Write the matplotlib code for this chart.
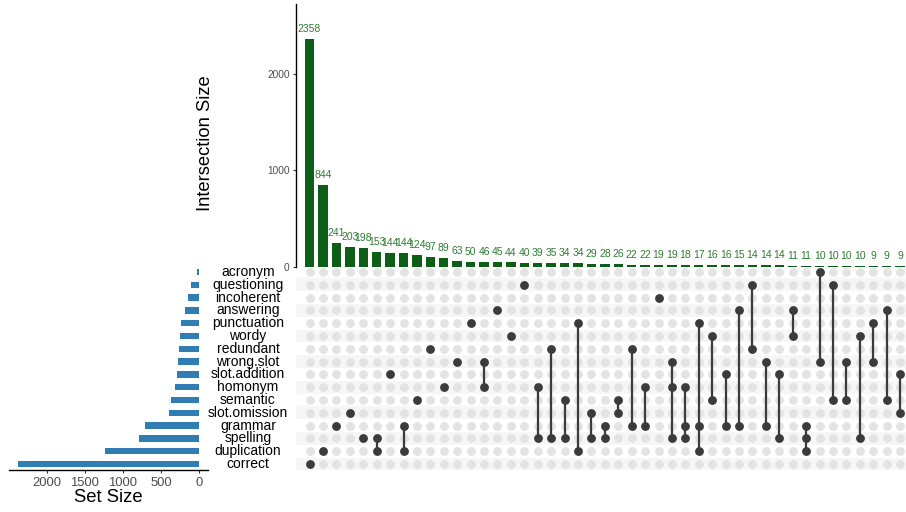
import matplotlib
matplotlib.use("Agg")
import matplotlib.pyplot as plt
from matplotlib.transforms import blended_transform_factory

plt.rcParams['font.family'] = ['Liberation Sans', 'DejaVu Sans']

# ---------------- data ----------------
sets = ['acronym', 'questioning', 'incoherent', 'answering', 'punctuation', 'wordy',
        'redundant', 'wrong.slot', 'slot.addition', 'homonym', 'semantic',
        'slot.omission', 'grammar', 'spelling', 'duplication', 'correct']
set_sizes = [31, 109, 140, 183, 231, 253, 262, 275, 293, 314, 371, 393, 712, 786, 1231, 2380]

intersection_sizes = [2358, 844, 241, 203, 198, 153, 144, 144, 124, 97, 89, 63, 50, 46, 45,
                      44, 40, 39, 35, 34, 34, 29, 28, 26, 22, 22, 19, 19, 18, 17, 16, 16,
                      15, 14, 14, 14, 11, 11, 10, 10, 10, 10, 9, 9, 9]
intersection_members = [
    ['correct'], ['duplication'], ['grammar'], ['slot.omission'], ['spelling'],
    ['spelling', 'duplication'], ['slot.addition'], ['grammar', 'duplication'],
    ['semantic'], ['redundant'], ['homonym'], ['wrong.slot'], ['punctuation'],
    ['wrong.slot', 'homonym'], ['answering'], ['wordy'], ['questioning'],
    ['homonym', 'spelling'], ['redundant', 'spelling'], ['semantic', 'spelling'],
    ['punctuation', 'duplication'], ['slot.omission', 'spelling'],
    ['grammar', 'spelling'], ['semantic', 'slot.omission'], ['redundant', 'grammar'],
    ['homonym', 'grammar'], ['incoherent'], ['wrong.slot', 'homonym', 'spelling'],
    ['homonym', 'grammar', 'spelling'], ['punctuation', 'grammar', 'duplication'],
    ['wordy', 'semantic'], ['slot.addition', 'grammar'], ['answering', 'grammar'],
    ['questioning', 'redundant'], ['wrong.slot', 'grammar'], ['slot.addition', 'spelling'],
    ['answering', 'wordy'], ['grammar', 'spelling', 'duplication'],
    ['acronym', 'wrong.slot'], ['questioning', 'semantic'], ['wrong.slot', 'semantic'],
    ['wordy', 'spelling'], ['punctuation', 'wrong.slot'], ['answering', 'semantic'],
    ['slot.addition', 'slot.omission'],
]

# ---------------- style ----------------
W, H = 906, 512
BAR_GREEN = '#0d5e16'
LABEL_GREEN = '#2f7d32'
SET_BLUE = '#2f7db2'
DOT_ON = '#3b3b3b'
DOT_OFF = '#e3e3e3'
STRIPE = '#f6f6f6'
TICK_GRAY = '#4d4d4d'

fig = plt.figure(figsize=(W / 100, H / 100), dpi=100)


def px_axes(x0, y0, x1, y1):
    return fig.add_axes([x0 / W, 1 - y1 / H, (x1 - x0) / W, (y1 - y0) / H])


n_cols = len(intersection_sizes)
n_rows = len(sets)
xs = list(range(n_cols))
col_left, col_right = -1.01, 44.44

mat_top, mat_bot = 265.6, 470.4

# ---------- intersection bar chart ----------
ax_bar = px_axes(296, 4, 906, 266.7)
ax_bar.bar(xs, intersection_sizes, width=0.7, color=BAR_GREEN)
for x, v in zip(xs, intersection_sizes):
    ax_bar.annotate(str(v), (x, v), xytext=(0, 5), textcoords='offset points',
                    ha='center', va='baseline', fontsize=7.5, color=LABEL_GREEN)
ax_bar.set_xlim(col_left, col_right)
ax_bar.set_ylim(0, max(intersection_sizes) * 1.154)
ax_bar.set_yticks([0, 1000, 2000])
ax_bar.tick_params(axis='y', labelsize=7.3, labelcolor=TICK_GRAY, length=2.5,
                   width=0.8, color='#333333', pad=2)
ax_bar.set_xticks([])
for s in ['top', 'right', 'bottom']:
    ax_bar.spines[s].set_visible(False)
ax_bar.spines['left'].set_linewidth(1.0)
ax_bar.patch.set_alpha(0)
fig.text(205.5 / W, 1 - 143 / H, 'Intersection Size', rotation=90, ha='center',
         va='center', fontsize=13.2, color='black')

# ---------- matrix ----------
ax_mat = px_axes(296, mat_top, 906, mat_bot)
ax_mat.set_xlim(col_left, col_right)
ax_mat.set_ylim(n_rows - 0.5, -0.5)
for i in range(n_rows):
    if i % 2 == 1:
        ax_mat.axhspan(i - 0.5, i + 0.5, color=STRIPE, lw=0, zorder=0)
gx, gy = [], []
for x in xs:
    for i in range(n_rows):
        gx.append(x)
        gy.append(i)
ax_mat.scatter(gx, gy, s=40, color=DOT_OFF, lw=0, zorder=1)
for x, members in zip(xs, intersection_members):
    rows = [sets.index(m) for m in members]
    if len(rows) > 1:
        ax_mat.plot([x, x], [min(rows), max(rows)], color=DOT_ON, lw=1.6, zorder=2,
                    solid_capstyle='butt')
    ax_mat.scatter([x] * len(rows), rows, s=40, color=DOT_ON, lw=0, zorder=3)
ax_mat.axis('off')

trans = blended_transform_factory(fig.transFigure, ax_mat.transData)
for i, name in enumerate(sets):
    ax_mat.text(248 / W, i, name, transform=trans, ha='center', va='center',
                fontsize=10, color='black', clip_on=False)

# ---------- set size bars ----------
ax_set = px_axes(8.6, mat_top, 208, mat_bot)
ax_set.barh(range(n_rows), set_sizes, height=0.5, color=SET_BLUE)
ax_set.set_ylim(n_rows - 0.5, -0.5)
smax = max(set_sizes)
ax_set.set_xlim(smax * 1.05, -smax * 0.05)
ax_set.set_xticks([2000, 1500, 1000, 500, 0])
ax_set.set_yticks([])
ax_set.tick_params(axis='x', labelsize=9.4, labelcolor=TICK_GRAY, length=2.5,
                   width=0.8, color='#333333', pad=2)
for s in ['top', 'right', 'left']:
    ax_set.spines[s].set_visible(False)
ax_set.spines['bottom'].set_linewidth(1.0)
ax_set.patch.set_alpha(0)
fig.text(108 / W, 1 - 497 / H, 'Set Size', ha='center', va='center',
         fontsize=13.3, color='black')

fig.savefig('out.png', dpi=100)
